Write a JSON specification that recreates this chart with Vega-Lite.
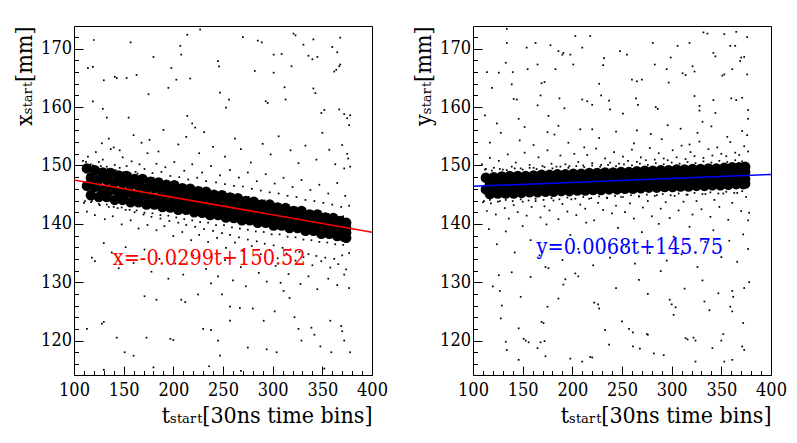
{
"$schema": "https://vega.github.io/schema/vega-lite/v6.json",
"padding": {"left": 13, "top": 25, "right": 5, "bottom": 5},
"bounds": "flush",
"spacing": 101,
"config": {
  "view": {"stroke": "black", "strokeWidth": 1},
  "font": "DejaVu Serif Condensed, DejaVu Serif",
  "axis": {"domain": false, "grid": false, "tickColor": "black", "tickWidth": 1, "labelColor": "black", "titleColor": "black", "labelFont": "DejaVu Serif Condensed, DejaVu Serif", "titleFont": "DejaVu Serif Condensed, DejaVu Serif", "labelFontSize": 18, "titleFontSize": 23, "titleFontWeight": "normal", "labelFlush": false, "labelOverlap": false}
},
"datasets": {
"lc": [
{"t":113,"v":149.5},{"t":117,"v":147.9},{"t":113,"v":146.5},{"t":117,"v":144.9},
{"t":121,"v":149.2},{"t":125,"v":147.6},{"t":121,"v":146.3},{"t":125,"v":144.6},
{"t":129,"v":148.8},{"t":133,"v":147.5},{"t":129,"v":145.8},{"t":133,"v":144.6},
{"t":137,"v":148.7},{"t":141,"v":147.1},{"t":137,"v":145.8},{"t":141,"v":144.1},
{"t":145,"v":148.3},{"t":149,"v":147.0},{"t":145,"v":145.4},{"t":149,"v":144.1},
{"t":153,"v":148.2},{"t":157,"v":146.6},{"t":153,"v":145.3},{"t":157,"v":143.7},
{"t":161,"v":147.7},{"t":165,"v":146.5},{"t":161,"v":144.9},{"t":165,"v":143.7},
{"t":169,"v":147.7},{"t":173,"v":146.1},{"t":169,"v":144.9},{"t":173,"v":143.3},
{"t":177,"v":147.2},{"t":181,"v":146.1},{"t":177,"v":144.5},{"t":181,"v":143.3},
{"t":185,"v":147.1},{"t":189,"v":145.6},{"t":185,"v":144.4},{"t":189,"v":142.9},
{"t":193,"v":146.7},{"t":197,"v":145.5},{"t":193,"v":144.0},{"t":197,"v":142.8},
{"t":201,"v":146.6},{"t":205,"v":145.1},{"t":201,"v":143.9},{"t":205,"v":142.4},
{"t":209,"v":146.1},{"t":213,"v":145.0},{"t":209,"v":143.5},{"t":213,"v":142.4},
{"t":217,"v":146.0},{"t":221,"v":144.5},{"t":217,"v":143.5},{"t":221,"v":142.0},
{"t":225,"v":145.6},{"t":229,"v":144.5},{"t":225,"v":143.0},{"t":229,"v":141.9},
{"t":233,"v":145.5},{"t":237,"v":144.0},{"t":233,"v":143.0},{"t":237,"v":141.5},
{"t":241,"v":145.0},{"t":245,"v":144.0},{"t":241,"v":142.5},{"t":245,"v":141.5},
{"t":249,"v":144.9},{"t":253,"v":143.5},{"t":249,"v":142.5},{"t":253,"v":141.1},
{"t":257,"v":144.5},{"t":261,"v":143.5},{"t":257,"v":142.0},{"t":261,"v":141.0},
{"t":265,"v":144.4},{"t":269,"v":143.0},{"t":265,"v":142.0},{"t":269,"v":140.6},
{"t":273,"v":143.9},{"t":277,"v":142.9},{"t":273,"v":141.6},{"t":277,"v":140.6},
{"t":281,"v":143.8},{"t":285,"v":142.5},{"t":281,"v":141.5},{"t":285,"v":140.2},
{"t":289,"v":143.3},{"t":293,"v":142.4},{"t":289,"v":141.1},{"t":293,"v":140.2},
{"t":297,"v":143.3},{"t":301,"v":142.0},{"t":297,"v":141.0},{"t":301,"v":139.7},
{"t":305,"v":142.8},{"t":309,"v":141.9},{"t":305,"v":140.6},{"t":309,"v":139.7},
{"t":313,"v":142.7},{"t":317,"v":141.4},{"t":313,"v":140.6},{"t":317,"v":139.3},
{"t":321,"v":142.2},{"t":325,"v":141.4},{"t":321,"v":140.1},{"t":325,"v":139.3},
{"t":329,"v":142.2},{"t":333,"v":140.9},{"t":329,"v":140.1},{"t":333,"v":138.8},
{"t":337,"v":141.6},{"t":341,"v":140.8},{"t":337,"v":139.6},{"t":341,"v":138.8},
{"t":345,"v":141.6},{"t":349,"v":140.4},{"t":345,"v":139.5},{"t":349,"v":138.3},
{"t":353,"v":141.1},{"t":357,"v":140.3},{"t":353,"v":139.1},{"t":357,"v":138.3},
{"t":361,"v":141.0},{"t":365,"v":139.8},{"t":361,"v":139.0},{"t":365,"v":137.9},
{"t":368,"v":140.5},{"t":372,"v":139.7},{"t":368,"v":138.6},{"t":372,"v":137.8},
{"t":374,"v":140.2},{"t":374,"v":139.3},{"t":374,"v":138.5},{"t":374,"v":137.6}
],
"ld": [
{"t":112,"v":150.6},{"t":119,"v":150.0},{"t":127,"v":149.9},{"t":134,"v":149.4},{"t":142,"v":149.2},{"t":150,"v":148.9},{"t":157,"v":148.6},{"t":164,"v":148.6},{"t":172,"v":148.0},{"t":180,"v":147.9},{"t":188,"v":147.6},{"t":196,"v":147.2},{"t":204,"v":147.1},{"t":212,"v":146.7},{"t":220,"v":146.5},{"t":228,"v":146.2},{"t":236,"v":146.0},{"t":244,"v":145.5},{"t":252,"v":145.4},{"t":260,"v":145.1},{"t":268,"v":144.7},{"t":276,"v":144.6},{"t":284,"v":144.1},{"t":292,"v":144.0},{"t":300,"v":143.7},{"t":308,"v":143.3},{"t":316,"v":143.2},{"t":324,"v":142.8},{"t":332,"v":142.6},{"t":340,"v":142.2},{"t":348,"v":142.1},{"t":356,"v":141.7},{"t":364,"v":141.5},{"t":371,"v":141.3},
{"t":111,"v":143.9},{"t":117,"v":143.7},{"t":125,"v":143.4},{"t":133,"v":143.3},{"t":140,"v":142.9},{"t":148,"v":142.8},{"t":156,"v":142.4},{"t":163,"v":142.3},{"t":171,"v":141.9},{"t":179,"v":141.8},{"t":187,"v":141.5},{"t":195,"v":141.4},{"t":203,"v":141.1},{"t":211,"v":140.8},{"t":219,"v":140.6},{"t":227,"v":140.3},{"t":235,"v":140.2},{"t":243,"v":139.8},{"t":251,"v":139.8},{"t":259,"v":139.4},{"t":267,"v":139.2},{"t":275,"v":139.0},{"t":283,"v":138.7},{"t":291,"v":138.6},{"t":299,"v":138.2},{"t":307,"v":138.2},{"t":315,"v":137.8},{"t":323,"v":137.7},{"t":331,"v":137.3},{"t":339,"v":137.2},{"t":347,"v":136.9},{"t":355,"v":136.8},{"t":363,"v":136.5},{"t":371,"v":136.4},
{"t":109,"v":150.8},{"t":114,"v":151.5},{"t":117,"v":150.2},{"t":122,"v":152.3},{"t":125,"v":150.6},{"t":129,"v":151.0},{"t":133,"v":149.8},{"t":137,"v":152.8},{"t":141,"v":150.1},{"t":146,"v":149.6},{"t":149,"v":151.4},{"t":153,"v":149.9},{"t":158,"v":150.7},{"t":162,"v":148.9},{"t":166,"v":150.2},{"t":171,"v":149.4},{"t":174,"v":152.1},{"t":179,"v":148.7},{"t":183,"v":150.3},{"t":188,"v":148.9},{"t":192,"v":149.7},{"t":197,"v":148.2},{"t":201,"v":150.6},{"t":206,"v":148.0},{"t":211,"v":149.1},{"t":215,"v":147.6},{"t":219,"v":150.2},{"t":224,"v":147.9},{"t":229,"v":148.8},{"t":233,"v":147.3},{"t":238,"v":149.9},{"t":243,"v":147.1},{"t":247,"v":148.3},{"t":252,"v":146.8},{"t":257,"v":149.2},{"t":261,"v":146.5},{"t":266,"v":147.9},{"t":270,"v":146.4},{"t":275,"v":148.8},{"t":279,"v":146.0},{"t":284,"v":147.3},{"t":288,"v":145.7},{"t":293,"v":148.5},{"t":297,"v":145.4},{"t":302,"v":146.9},{"t":306,"v":145.2},{"t":311,"v":147.9},{"t":315,"v":144.8},{"t":320,"v":146.3},{"t":324,"v":144.6},{"t":329,"v":147.5},{"t":333,"v":144.1},{"t":338,"v":145.8},{"t":342,"v":143.9},{"t":347,"v":146.7},{"t":351,"v":143.6},{"t":356,"v":145.2},{"t":360,"v":143.3},{"t":365,"v":147.0},{"t":369,"v":142.9},{"t":373,"v":144.8},{"t":377,"v":143.1},{"t":376,"v":151.2},{"t":372,"v":149.5},
{"t":110,"v":143.6},{"t":113,"v":142.1},{"t":118,"v":143.9},{"t":121,"v":141.5},{"t":126,"v":143.2},{"t":131,"v":140.8},{"t":135,"v":142.9},{"t":139,"v":141.3},{"t":144,"v":142.7},{"t":148,"v":139.9},{"t":152,"v":142.4},{"t":157,"v":140.6},{"t":161,"v":142.0},{"t":165,"v":139.2},{"t":170,"v":141.6},{"t":174,"v":139.8},{"t":178,"v":141.2},{"t":183,"v":138.9},{"t":187,"v":140.9},{"t":191,"v":139.6},{"t":196,"v":140.5},{"t":200,"v":137.9},{"t":205,"v":140.2},{"t":209,"v":138.6},{"t":213,"v":139.8},{"t":218,"v":137.2},{"t":222,"v":139.5},{"t":226,"v":138.1},{"t":231,"v":139.1},{"t":235,"v":136.9},{"t":240,"v":138.8},{"t":244,"v":137.6},{"t":249,"v":138.4},{"t":253,"v":135.9},{"t":257,"v":138.1},{"t":262,"v":136.8},{"t":266,"v":137.7},{"t":270,"v":135.4},{"t":275,"v":137.3},{"t":279,"v":136.2},{"t":284,"v":137.0},{"t":288,"v":134.8},{"t":292,"v":136.6},{"t":297,"v":135.5},{"t":301,"v":136.3},{"t":305,"v":134.1},{"t":310,"v":135.9},{"t":314,"v":134.9},{"t":318,"v":135.6},{"t":323,"v":133.7},{"t":327,"v":135.2},{"t":331,"v":134.3},{"t":336,"v":134.8},{"t":340,"v":132.9},{"t":344,"v":134.5},{"t":349,"v":133.6},{"t":353,"v":134.2},{"t":358,"v":132.5},{"t":362,"v":134.0},{"t":366,"v":133.1},{"t":370,"v":134.6},{"t":374,"v":132.2},{"t":377,"v":135.0},
{"t":120,"v":171.5},{"t":114,"v":166.7},{"t":119,"v":166.9},{"t":157,"v":171.1},{"t":141,"v":165.2},{"t":143,"v":165.0},{"t":153,"v":165.0},{"t":163,"v":165.5},{"t":130,"v":164.6},{"t":119,"v":161.0},{"t":129,"v":159.7},{"t":133,"v":158.2},{"t":155,"v":158.2},{"t":175,"v":162.2},{"t":180,"v":168.6},{"t":207,"v":170.5},{"t":208,"v":169.0},{"t":214,"v":172.4},{"t":227,"v":173.3},{"t":198,"v":166.7},{"t":203,"v":164.7},{"t":217,"v":164.9},{"t":195,"v":163.3},{"t":214,"v":158.5},{"t":219,"v":157.2},{"t":222,"v":156.5},{"t":245,"v":167.9},{"t":246,"v":167.0},{"t":247,"v":162.5},{"t":256,"v":161.3},{"t":253,"v":159.9},{"t":270,"v":172.0},{"t":282,"v":166.2},{"t":285,"v":171.4},{"t":289,"v":171.1},{"t":293,"v":161.0},{"t":295,"v":160.7},{"t":301,"v":169.0},{"t":301,"v":165.9},{"t":309,"v":169.1},{"t":312,"v":163.4},{"t":313,"v":161.3},{"t":321,"v":172.6},{"t":323,"v":172.3},{"t":319,"v":167.0},{"t":331,"v":170.7},{"t":336,"v":168.8},{"t":340,"v":168.2},{"t":341,"v":171.6},{"t":345,"v":168.6},{"t":341,"v":163.2},{"t":343,"v":162.4},{"t":352,"v":159.5},{"t":349,"v":159.0},{"t":360,"v":170.3},{"t":365,"v":169.4},{"t":362,"v":166.1},{"t":364,"v":166.4},{"t":368,"v":171.9},{"t":368,"v":167.3},{"t":367,"v":167.0},{"t":367,"v":159.6},{"t":372,"v":158.8},{"t":375,"v":158.1},{"t":378,"v":158.6},{"t":377,"v":156.9},
{"t":128,"v":153.8},{"t":135,"v":154.6},{"t":140,"v":153.1},{"t":146,"v":152.6},{"t":160,"v":155.2},{"t":168,"v":153.9},{"t":176,"v":154.4},{"t":185,"v":152.4},{"t":190,"v":156.1},{"t":205,"v":153.6},{"t":213,"v":154.9},{"t":226,"v":152.1},{"t":231,"v":155.7},{"t":240,"v":153.2},{"t":252,"v":151.5},{"t":262,"v":154.6},{"t":268,"v":152.8},{"t":278,"v":150.5},{"t":290,"v":153.7},{"t":298,"v":151.9},{"t":306,"v":155.0},{"t":318,"v":152.6},{"t":326,"v":150.4},{"t":333,"v":153.4},{"t":344,"v":151.0},{"t":350,"v":155.6},{"t":357,"v":152.7},{"t":363,"v":150.2},{"t":370,"v":153.5},{"t":375,"v":152.0},{"t":378,"v":149.8},
{"t":118,"v":134.2},{"t":121,"v":133.6},{"t":130,"v":136.7},{"t":138,"v":135.1},{"t":145,"v":132.4},{"t":152,"v":136.0},{"t":160,"v":133.3},{"t":171,"v":135.6},{"t":178,"v":131.8},{"t":186,"v":134.0},{"t":195,"v":130.6},{"t":202,"v":133.2},{"t":210,"v":131.3},{"t":220,"v":134.6},{"t":233,"v":132.3},{"t":238,"v":129.8},{"t":245,"v":131.0},{"t":252,"v":133.8},{"t":260,"v":130.3},{"t":268,"v":132.6},{"t":273,"v":129.3},{"t":286,"v":131.6},{"t":294,"v":130.1},{"t":303,"v":132.8},{"t":308,"v":129.9},{"t":316,"v":131.4},{"t":328,"v":129.7},{"t":336,"v":131.0},{"t":345,"v":128.8},{"t":356,"v":130.6},{"t":365,"v":129.5},{"t":372,"v":131.3},{"t":377,"v":129.0},
{"t":171,"v":127.6},{"t":183,"v":127.0},{"t":130,"v":123.2},{"t":128,"v":122.9},{"t":113,"v":122.0},{"t":143,"v":120.5},{"t":151,"v":118.0},{"t":160,"v":117.4},{"t":173,"v":120.5},{"t":197,"v":120.3},{"t":200,"v":120.1},{"t":208,"v":127.0},{"t":212,"v":126.6},{"t":225,"v":127.9},{"t":230,"v":122.0},{"t":238,"v":121.8},{"t":245,"v":120.0},{"t":247,"v":117.4},{"t":249,"v":127.9},{"t":257,"v":125.8},{"t":267,"v":125.6},{"t":257,"v":123.4},{"t":275,"v":118.8},{"t":280,"v":125.5},{"t":291,"v":123.4},{"t":294,"v":118.5},{"t":302,"v":125.0},{"t":304,"v":118.0},{"t":311,"v":128.5},{"t":317,"v":127.3},{"t":322,"v":124.0},{"t":326,"v":122.0},{"t":329,"v":120.0},{"t":339,"v":122.2},{"t":342,"v":121.0},{"t":348,"v":119.0},{"t":358,"v":123.4},{"t":359,"v":118.0},{"t":369,"v":122.5},{"t":370,"v":121.6},{"t":372,"v":120.0},{"t":378,"v":118.0},{"t":236,"v":115.6},{"t":268,"v":114.8},{"t":352,"v":115.2},{"t":180,"v":115.4},{"t":130,"v":115.0}
],
"rc": [
{"t":113,"v":147.9},{"t":117,"v":147.1},{"t":113,"v":145.9},{"t":117,"v":145.1},
{"t":121,"v":148.0},{"t":125,"v":147.0},{"t":121,"v":146.0},{"t":125,"v":145.2},
{"t":129,"v":148.1},{"t":133,"v":147.2},{"t":129,"v":146.1},{"t":133,"v":145.2},
{"t":137,"v":148.2},{"t":141,"v":147.3},{"t":137,"v":146.1},{"t":141,"v":145.2},
{"t":145,"v":148.2},{"t":149,"v":147.3},{"t":145,"v":146.2},{"t":149,"v":145.3},
{"t":153,"v":148.2},{"t":157,"v":147.4},{"t":153,"v":146.2},{"t":157,"v":145.4},
{"t":161,"v":148.3},{"t":165,"v":147.4},{"t":161,"v":146.3},{"t":165,"v":145.4},
{"t":169,"v":148.4},{"t":173,"v":147.5},{"t":169,"v":146.3},{"t":173,"v":145.5},
{"t":177,"v":148.4},{"t":181,"v":147.5},{"t":177,"v":146.4},{"t":181,"v":145.5},
{"t":185,"v":148.5},{"t":189,"v":147.6},{"t":185,"v":146.4},{"t":189,"v":145.6},
{"t":193,"v":148.5},{"t":197,"v":147.6},{"t":193,"v":146.5},{"t":197,"v":145.6},
{"t":201,"v":148.6},{"t":205,"v":147.7},{"t":201,"v":146.5},{"t":205,"v":145.7},
{"t":209,"v":148.6},{"t":213,"v":147.7},{"t":209,"v":146.6},{"t":213,"v":145.7},
{"t":217,"v":148.7},{"t":221,"v":147.8},{"t":217,"v":146.6},{"t":221,"v":145.8},
{"t":225,"v":148.7},{"t":229,"v":147.9},{"t":225,"v":146.7},{"t":229,"v":145.8},
{"t":233,"v":148.8},{"t":237,"v":147.9},{"t":233,"v":146.8},{"t":237,"v":145.9},
{"t":241,"v":148.8},{"t":245,"v":148.0},{"t":241,"v":146.8},{"t":245,"v":145.9},
{"t":249,"v":148.9},{"t":253,"v":148.0},{"t":249,"v":146.9},{"t":253,"v":146.0},
{"t":257,"v":148.9},{"t":261,"v":148.1},{"t":257,"v":146.9},{"t":261,"v":146.0},
{"t":265,"v":149.0},{"t":269,"v":148.1},{"t":265,"v":147.0},{"t":269,"v":146.1},
{"t":273,"v":149.1},{"t":277,"v":148.2},{"t":273,"v":147.0},{"t":277,"v":146.2},
{"t":281,"v":149.1},{"t":285,"v":148.2},{"t":281,"v":147.1},{"t":285,"v":146.2},
{"t":289,"v":149.2},{"t":293,"v":148.3},{"t":289,"v":147.1},{"t":293,"v":146.3},
{"t":297,"v":149.2},{"t":301,"v":148.3},{"t":297,"v":147.2},{"t":301,"v":146.3},
{"t":305,"v":149.3},{"t":309,"v":148.4},{"t":305,"v":147.2},{"t":309,"v":146.4},
{"t":313,"v":149.3},{"t":317,"v":148.5},{"t":313,"v":147.3},{"t":317,"v":146.4},
{"t":321,"v":149.4},{"t":325,"v":148.5},{"t":321,"v":147.4},{"t":325,"v":146.5},
{"t":329,"v":149.4},{"t":333,"v":148.6},{"t":329,"v":147.4},{"t":333,"v":146.5},
{"t":337,"v":149.5},{"t":341,"v":148.6},{"t":337,"v":147.5},{"t":341,"v":146.6},
{"t":345,"v":149.5},{"t":349,"v":148.7},{"t":345,"v":147.5},{"t":349,"v":146.6},
{"t":353,"v":149.6},{"t":357,"v":148.7},{"t":353,"v":147.6},{"t":357,"v":146.7},
{"t":361,"v":149.7},{"t":365,"v":148.8},{"t":361,"v":147.6},{"t":365,"v":146.8},
{"t":368,"v":149.7},{"t":372,"v":148.8},{"t":368,"v":147.7},{"t":372,"v":146.8},
{"t":374,"v":149.8},{"t":374,"v":148.9},{"t":374,"v":147.7},{"t":374,"v":146.9}
],
"rd": [
{"t":112,"v":149.3},{"t":119,"v":149.1},{"t":127,"v":149.4},{"t":134,"v":149.2},{"t":142,"v":149.5},{"t":150,"v":149.3},{"t":157,"v":149.6},{"t":164,"v":149.4},{"t":172,"v":149.7},{"t":180,"v":149.5},{"t":188,"v":149.8},{"t":196,"v":149.6},{"t":204,"v":149.9},{"t":212,"v":149.7},{"t":220,"v":150.0},{"t":228,"v":149.8},{"t":236,"v":150.1},{"t":244,"v":149.9},{"t":252,"v":150.2},{"t":260,"v":150.0},{"t":268,"v":150.3},{"t":276,"v":150.1},{"t":284,"v":150.4},{"t":292,"v":150.2},{"t":300,"v":150.5},{"t":308,"v":150.3},{"t":316,"v":150.6},{"t":324,"v":150.4},{"t":332,"v":150.7},{"t":340,"v":150.5},{"t":348,"v":150.8},{"t":356,"v":150.6},{"t":364,"v":150.9},{"t":371,"v":150.7},
{"t":111,"v":143.9},{"t":117,"v":144.1},{"t":125,"v":143.8},{"t":133,"v":144.1},{"t":140,"v":143.9},{"t":148,"v":144.2},{"t":156,"v":144.0},{"t":163,"v":144.3},{"t":171,"v":144.1},{"t":179,"v":144.4},{"t":187,"v":144.2},{"t":195,"v":144.5},{"t":203,"v":144.3},{"t":211,"v":144.6},{"t":219,"v":144.4},{"t":227,"v":144.7},{"t":235,"v":144.5},{"t":243,"v":144.8},{"t":251,"v":144.6},{"t":259,"v":144.9},{"t":267,"v":144.7},{"t":275,"v":145.0},{"t":283,"v":144.8},{"t":291,"v":145.1},{"t":299,"v":144.9},{"t":307,"v":145.2},{"t":315,"v":145.0},{"t":323,"v":145.3},{"t":331,"v":145.1},{"t":339,"v":145.4},{"t":347,"v":145.2},{"t":355,"v":145.5},{"t":363,"v":145.3},{"t":371,"v":145.6},
{"t":109,"v":150.2},{"t":113,"v":149.4},{"t":117,"v":151.3},{"t":121,"v":149.6},{"t":126,"v":150.8},{"t":130,"v":149.3},{"t":135,"v":151.9},{"t":139,"v":149.8},{"t":143,"v":150.5},{"t":148,"v":149.5},{"t":152,"v":152.2},{"t":157,"v":150.1},{"t":161,"v":149.6},{"t":166,"v":151.4},{"t":170,"v":149.9},{"t":175,"v":152.6},{"t":179,"v":150.3},{"t":184,"v":149.8},{"t":188,"v":151.7},{"t":193,"v":150.2},{"t":197,"v":149.9},{"t":202,"v":152.0},{"t":206,"v":150.6},{"t":211,"v":150.0},{"t":215,"v":151.8},{"t":220,"v":150.4},{"t":224,"v":152.9},{"t":229,"v":150.1},{"t":233,"v":151.2},{"t":238,"v":150.5},{"t":242,"v":152.3},{"t":247,"v":150.3},{"t":251,"v":151.5},{"t":256,"v":150.8},{"t":260,"v":152.7},{"t":265,"v":150.6},{"t":269,"v":151.4},{"t":274,"v":150.9},{"t":278,"v":153.0},{"t":283,"v":151.0},{"t":287,"v":152.1},{"t":292,"v":151.2},{"t":296,"v":150.9},{"t":301,"v":152.6},{"t":305,"v":151.4},{"t":310,"v":153.4},{"t":314,"v":151.1},{"t":319,"v":152.3},{"t":323,"v":151.6},{"t":328,"v":154.1},{"t":332,"v":151.3},{"t":337,"v":152.8},{"t":341,"v":151.7},{"t":346,"v":153.1},{"t":350,"v":152.0},{"t":355,"v":151.6},{"t":359,"v":154.0},{"t":364,"v":152.2},{"t":368,"v":151.8},{"t":373,"v":153.3},{"t":377,"v":152.4},
{"t":110,"v":143.7},{"t":114,"v":142.2},{"t":118,"v":143.5},{"t":123,"v":141.6},{"t":127,"v":143.9},{"t":132,"v":142.7},{"t":136,"v":140.9},{"t":141,"v":143.2},{"t":145,"v":142.0},{"t":150,"v":143.8},{"t":154,"v":141.4},{"t":159,"v":142.9},{"t":163,"v":143.9},{"t":168,"v":141.1},{"t":172,"v":143.0},{"t":177,"v":142.3},{"t":181,"v":144.0},{"t":186,"v":140.8},{"t":190,"v":143.4},{"t":195,"v":142.1},{"t":199,"v":144.2},{"t":204,"v":141.5},{"t":208,"v":143.3},{"t":213,"v":142.6},{"t":217,"v":144.3},{"t":222,"v":140.6},{"t":226,"v":143.6},{"t":231,"v":142.4},{"t":235,"v":144.4},{"t":240,"v":141.8},{"t":244,"v":143.1},{"t":249,"v":144.6},{"t":253,"v":142.0},{"t":258,"v":143.5},{"t":262,"v":140.9},{"t":267,"v":144.7},{"t":271,"v":142.8},{"t":276,"v":143.9},{"t":280,"v":141.3},{"t":285,"v":144.9},{"t":289,"v":142.6},{"t":294,"v":143.7},{"t":298,"v":141.0},{"t":303,"v":144.8},{"t":307,"v":142.3},{"t":312,"v":143.8},{"t":316,"v":145.0},{"t":321,"v":141.6},{"t":325,"v":143.9},{"t":330,"v":142.5},{"t":334,"v":145.1},{"t":339,"v":141.2},{"t":343,"v":144.1},{"t":348,"v":142.9},{"t":352,"v":145.2},{"t":357,"v":140.7},{"t":361,"v":143.6},{"t":366,"v":145.3},{"t":370,"v":142.2},{"t":375,"v":144.6},{"t":378,"v":141.9},
{"t":134,"v":173.4},{"t":134,"v":171.0},{"t":114,"v":166.0},{"t":119,"v":163.3},{"t":126,"v":165.9},{"t":133,"v":167.6},{"t":140,"v":166.0},{"t":141,"v":161.4},{"t":144,"v":161.3},{"t":146,"v":158.0},{"t":152,"v":156.6},{"t":154,"v":170.2},{"t":155,"v":166.5},{"t":163,"v":171.0},{"t":165,"v":167.3},{"t":169,"v":164.1},{"t":172,"v":164.3},{"t":168,"v":162.0},{"t":165,"v":160.3},{"t":175,"v":155.7},{"t":178,"v":170.6},{"t":183,"v":166.5},{"t":186,"v":169.6},{"t":190,"v":169.0},{"t":191,"v":169.3},{"t":187,"v":161.5},{"t":192,"v":159.8},{"t":176,"v":158.5},{"t":186,"v":156.8},{"t":203,"v":172.2},{"t":201,"v":167.3},{"t":198,"v":169.0},{"t":210,"v":161.3},{"t":215,"v":161.0},{"t":220,"v":160.4},{"t":210,"v":170.2},{"t":218,"v":172.2},{"t":220,"v":156.2},{"t":231,"v":167.2},{"t":232,"v":168.4},{"t":227,"v":164.0},{"t":229,"v":162.0},{"t":237,"v":161.1},{"t":238,"v":159.6},{"t":248,"v":169.6},{"t":255,"v":169.0},{"t":260,"v":164.7},{"t":265,"v":164.4},{"t":270,"v":164.7},{"t":264,"v":161.5},{"t":266,"v":160.4},{"t":265,"v":156.0},{"t":281,"v":171.0},{"t":283,"v":167.3},{"t":284,"v":160.0},{"t":286,"v":159.7},{"t":295,"v":166.5},{"t":297,"v":164.2},{"t":299,"v":168.5},{"t":306,"v":170.5},{"t":311,"v":165.8},{"t":314,"v":165.5},{"t":318,"v":171.0},{"t":321,"v":167.0},{"t":323,"v":166.1},{"t":323,"v":161.9},{"t":328,"v":160.2},{"t":332,"v":172.8},{"t":336,"v":172.6},{"t":328,"v":159.4},{"t":331,"v":157.5},{"t":342,"v":169.3},{"t":344,"v":168.7},{"t":342,"v":161.2},{"t":344,"v":159.0},{"t":353,"v":172.5},{"t":353,"v":165.6},{"t":351,"v":165.4},{"t":359,"v":170.5},{"t":364,"v":170.5},{"t":361,"v":166.5},{"t":360,"v":161.5},{"t":365,"v":161.2},{"t":371,"v":161.6},{"t":365,"v":172.9},{"t":369,"v":167.9},{"t":370,"v":168.5},{"t":373,"v":168.6},{"t":376,"v":172.0},{"t":376,"v":165.6},{"t":377,"v":158.0},{"t":376,"v":155.2},{"t":377,"v":159.5},{"t":112,"v":158.6},{"t":124,"v":157.2},{"t":139,"v":163.9},{"t":296,"v":156.9},{"t":251,"v":158.9},
{"t":117,"v":153.9},{"t":128,"v":155.6},{"t":147,"v":154.3},{"t":161,"v":153.5},{"t":182,"v":155.3},{"t":196,"v":153.9},{"t":208,"v":156.2},{"t":227,"v":154.7},{"t":244,"v":155.8},{"t":262,"v":153.8},{"t":279,"v":155.4},{"t":290,"v":154.5},{"t":309,"v":156.3},{"t":326,"v":155.6},{"t":340,"v":156.7},{"t":356,"v":154.9},{"t":371,"v":155.9},{"t":212,"v":153.1},{"t":318,"v":153.6},
{"t":116,"v":139.1},{"t":124,"v":136.5},{"t":133,"v":138.7},{"t":142,"v":135.1},{"t":150,"v":139.6},{"t":158,"v":137.2},{"t":167,"v":134.6},{"t":174,"v":139.9},{"t":180,"v":136.4},{"t":190,"v":133.8},{"t":198,"v":138.1},{"t":206,"v":135.7},{"t":214,"v":140.2},{"t":221,"v":132.9},{"t":230,"v":137.5},{"t":238,"v":134.2},{"t":246,"v":139.3},{"t":254,"v":136.1},{"t":263,"v":133.2},{"t":270,"v":138.6},{"t":278,"v":135.0},{"t":287,"v":140.0},{"t":295,"v":133.7},{"t":302,"v":137.8},{"t":310,"v":134.8},{"t":318,"v":139.5},{"t":326,"v":132.6},{"t":334,"v":136.9},{"t":342,"v":138.9},{"t":350,"v":134.3},{"t":358,"v":137.1},{"t":366,"v":133.5},{"t":372,"v":138.2},{"t":377,"v":135.7},{"t":377,"v":140.6},{"t":173,"v":132.6},{"t":176,"v":132.4},
{"t":126,"v":131.2},{"t":127,"v":128.5},{"t":129,"v":126.0},{"t":128,"v":123.8},{"t":133,"v":119.8},{"t":134,"v":118.4},{"t":146,"v":122.1},{"t":148,"v":127.5},{"t":151,"v":120.3},{"t":153,"v":120.0},{"t":156,"v":119.7},{"t":165,"v":118.7},{"t":169,"v":123.2},{"t":171,"v":123.0},{"t":168,"v":119.7},{"t":172,"v":119.9},{"t":173,"v":117.3},{"t":175,"v":125.8},{"t":146,"v":116.7},{"t":191,"v":129.6},{"t":193,"v":130.5},{"t":203,"v":131.5},{"t":206,"v":131.0},{"t":198,"v":116.9},{"t":210,"v":116.4},{"t":218,"v":117.2},{"t":220,"v":117.1},{"t":222,"v":126.5},{"t":227,"v":125.5},{"t":226,"v":126.2},{"t":233,"v":121.8},{"t":237,"v":119.3},{"t":250,"v":123.3},{"t":257,"v":122.0},{"t":261,"v":121.4},{"t":261,"v":119.0},{"t":268,"v":118.6},{"t":275,"v":121.1},{"t":276,"v":121.0},{"t":276,"v":128.0},{"t":282,"v":117.8},{"t":292,"v":117.5},{"t":298,"v":127.0},{"t":300,"v":126.2},{"t":304,"v":125.7},{"t":302,"v":124.4},{"t":313,"v":128.9},{"t":314,"v":120.4},{"t":316,"v":120.2},{"t":322,"v":120.5},{"t":324,"v":120.0},{"t":324,"v":116.4},{"t":333,"v":126.7},{"t":338,"v":125.2},{"t":350,"v":120.0},{"t":352,"v":121.1},{"t":361,"v":128.5},{"t":362,"v":127.5},{"t":359,"v":125.8},{"t":361,"v":125.0},{"t":373,"v":118.4},{"t":371,"v":119.0},{"t":372,"v":123.0},{"t":373,"v":129.0},{"t":378,"v":130.0},{"t":361,"v":116.7},{"t":341,"v":118.7},{"t":353,"v":116.4},{"t":120,"v":129.3},{"t":139,"v":131.7},{"t":158,"v":130.9},{"t":186,"v":127.2},{"t":244,"v":129.0},{"t":267,"v":130.4},{"t":289,"v":131.9},{"t":331,"v":130.3},{"t":347,"v":128.1}
]
},
"hconcat": [
{
  "width": 298, "height": 349,
  "encoding": {
    "x": {"field": "t", "type": "quantitative", "scale": {"domain": [100, 400], "nice": false, "zero": false},
      "axis": {"title": "tₛₜₐᵣₜ[30ns time bins]", "titleAnchor": "end", "titlePadding": 0,
        "values": [100,110,120,130,140,150,160,170,180,190,200,210,220,230,240,250,260,270,280,290,300,310,320,330,340,350,360,370,380,390,400],
        "labelExpr": "datum.value % 50 === 0 ? datum.label : ''",
        "tickSize": {"condition": {"test": "datum.value % 50 === 0", "value": -9}, "value": -4.5},
        "labelPadding": 15.5}},
    "y": {"field": "v", "type": "quantitative", "scale": {"domain": [114.1, 173.9], "nice": false, "zero": false},
      "axis": {"title": "xₛₜₐᵣₜ[mm]", "titleAnchor": "end", "titlePadding": 4,
        "values": [116,118,120,122,124,126,128,130,132,134,136,138,140,142,144,146,148,150,152,154,156,158,160,162,164,166,168,170,172],
        "labelExpr": "datum.value % 10 === 0 ? datum.label : ''",
        "tickSize": {"condition": {"test": "datum.value % 10 === 0", "value": -9}, "value": -4.5},
        "labelPadding": 11.5}}
  },
  "layer": [
    {"data": {"name": "lc"}, "mark": {"type": "circle", "size": 110, "color": "black", "opacity": 1}},
    {"data": {"name": "ld"}, "mark": {"type": "square", "size": 3, "color": "black", "opacity": 1}},
    {"data": {"values": [{"t": 100, "v": 147.53}, {"t": 400, "v": 138.56}]}, "mark": {"type": "line", "color": "#ff0000", "strokeWidth": 1.5}},
    {"data": {"values": [{"t": 139, "v": 132.9, "label": "x=-0.0299t+150.52"}]}, "mark": {"type": "text", "color": "#ff0000", "fontSize": 21.5, "align": "left", "baseline": "alphabetic", "font": "DejaVu Serif Condensed, DejaVu Serif"}, "encoding": {"text": {"field": "label"}}}
  ]
},
{
  "width": 298, "height": 349,
  "encoding": {
    "x": {"field": "t", "type": "quantitative", "scale": {"domain": [100, 400], "nice": false, "zero": false},
      "axis": {"title": "tₛₜₐᵣₜ[30ns time bins]", "titleAnchor": "end", "titlePadding": 0,
        "values": [100,110,120,130,140,150,160,170,180,190,200,210,220,230,240,250,260,270,280,290,300,310,320,330,340,350,360,370,380,390,400],
        "labelExpr": "datum.value % 50 === 0 ? datum.label : ''",
        "tickSize": {"condition": {"test": "datum.value % 50 === 0", "value": -9}, "value": -4.5},
        "labelPadding": 15.5}},
    "y": {"field": "v", "type": "quantitative", "scale": {"domain": [114.1, 173.9], "nice": false, "zero": false},
      "axis": {"title": "yₛₜₐᵣₜ[mm]", "titleAnchor": "end", "titlePadding": 4,
        "values": [116,118,120,122,124,126,128,130,132,134,136,138,140,142,144,146,148,150,152,154,156,158,160,162,164,166,168,170,172],
        "labelExpr": "datum.value % 10 === 0 ? datum.label : ''",
        "tickSize": {"condition": {"test": "datum.value % 10 === 0", "value": -9}, "value": -4.5},
        "labelPadding": 11.5}}
  },
  "layer": [
    {"data": {"name": "rc"}, "mark": {"type": "circle", "size": 110, "color": "black", "opacity": 1}},
    {"data": {"name": "rd"}, "mark": {"type": "square", "size": 3, "color": "black", "opacity": 1}},
    {"data": {"values": [{"t": 100, "v": 146.43}, {"t": 400, "v": 148.47}]}, "mark": {"type": "line", "color": "#0000ff", "strokeWidth": 1.5}},
    {"data": {"values": [{"t": 164, "v": 134.9, "label": "y=0.0068t+145.75"}]}, "mark": {"type": "text", "color": "#0000ff", "fontSize": 21.5, "align": "left", "baseline": "alphabetic", "font": "DejaVu Serif Condensed, DejaVu Serif"}, "encoding": {"text": {"field": "label"}}}
  ]
}
]
}
